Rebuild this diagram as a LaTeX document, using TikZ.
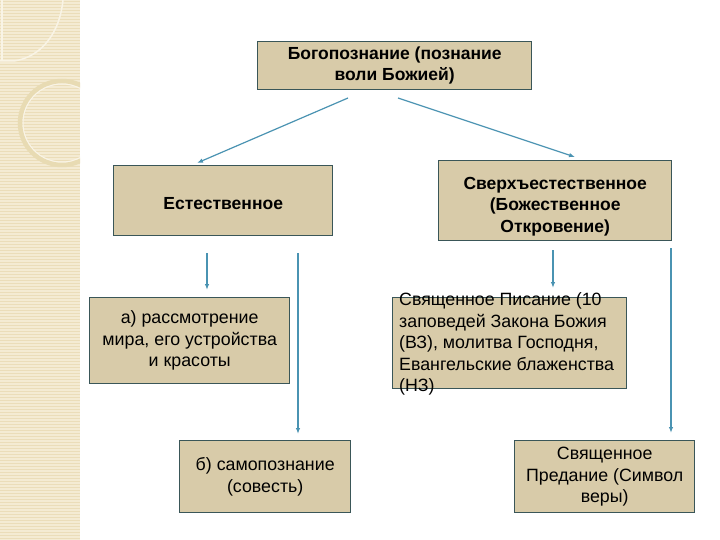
\documentclass[tikz,border=0pt]{standalone}
\usepackage{fontspec}
\setmainfont{Liberation Sans}
\usetikzlibrary{arrows.meta}
\definecolor{boxfill}{HTML}{D8CBA9}
\definecolor{boxline}{HTML}{3A5658}
\definecolor{arr}{HTML}{4A93B2}
\definecolor{strip}{HTML}{F4EBD3}
\definecolor{stripline}{HTML}{EBDDB9}
\definecolor{ring}{HTML}{E8DBB3}
\definecolor{ringlight}{HTML}{F9F4E6}
\begin{document}
\begin{tikzpicture}[x=1pt,y=-1pt,
  box/.style={draw=boxline, line width=1.4pt, fill=boxfill, inner sep=0pt, anchor=north west, align=center, font=\fontsize{17.8}{21.5}\selectfont},
  boldbox/.style={box, font=\fontsize{17.5}{21.5}\selectfont\bfseries},
  conn/.style={draw=arr, line width=1.2pt, -{Latex[length=6pt,width=4.5pt]}}]
\useasboundingbox (0,0) rectangle (720,540);
\fill[white] (0,0) rectangle (720,540);
% decorative strip
\begin{scope}
\clip (0,0) rectangle (80,540);
\fill[strip] (0,0) rectangle (80,540);
\foreach \y in {1.5,4.5,...,540} \draw[stripline, line width=0.6pt] (0,\y) -- (80,\y);
\draw[ringlight, line width=1.5pt] (0,61) -- (14,61) .. controls (42,57) and (60,32) .. (63,0);
\draw[ringlight, line width=1.2pt] (2,0) -- (2,61);
\draw[ring, line width=4.5pt] (62,123) circle (42);
\draw[ringlight, line width=1pt] (62,123) circle (39);
\end{scope}
% boxes
\node[boldbox, minimum width=274, minimum height=48] (top) at (257,41) {Богопознание (познание\\воли Божией)};
\node[boldbox, minimum width=219, minimum height=70] (nat) at (113,165) {\rule{0pt}{17pt}Естественное};
\node[boldbox, minimum width=233, minimum height=80] (sup) at (438,160) {\rule{0pt}{24pt}Сверхъестественное\\(Божественное\\Откровение)};
\node[box, minimum width=200, minimum height=86] (ba) at (89,297) {а) рассмотрение\\мира, его устройства\\и красоты};
\node[box, minimum width=234, minimum height=91] (scr) at (392,297) {};
\node[anchor=west, align=left, inner sep=0pt, font=\fontsize{17.8}{21.5}\selectfont] (scrtext) at (399,344) {Священное Писание (10\\заповедей Закона Божия\\(ВЗ), молитва Господня,\\Евангельские блаженства\\(НЗ)};
\node[box, minimum width=171, minimum height=72] (bb) at (179,440) {б) самопознание\\(совесть)};
\node[box, minimum width=180, minimum height=72] (trad) at (514,440) {Священное\\Предание (Символ\\веры)};
% connector ends
\coordinate (t1) at (348,98);
\coordinate (t2) at (398,98);
\coordinate (e1) at (197,163);
\coordinate (e2) at (575,157);
\coordinate (n1) at (207,253);
\coordinate (n1e) at (207,290);
\coordinate (n2) at (298,253);
\coordinate (n2e) at (298,434);
\coordinate (s1) at (553,250);
\coordinate (s1e) at (553,288);
\coordinate (s2) at (671,248);
\coordinate (s2e) at (671,433);
\draw[conn] (t1) -- (e1);
\draw[conn] (t2) -- (e2);
\draw[conn] (n1) -- (n1e);
\draw[conn] (n2) -- (n2e);
\draw[conn] (s1) -- (s1e);
\draw[conn] (s2) -- (s2e);
\end{tikzpicture}
\end{document}
